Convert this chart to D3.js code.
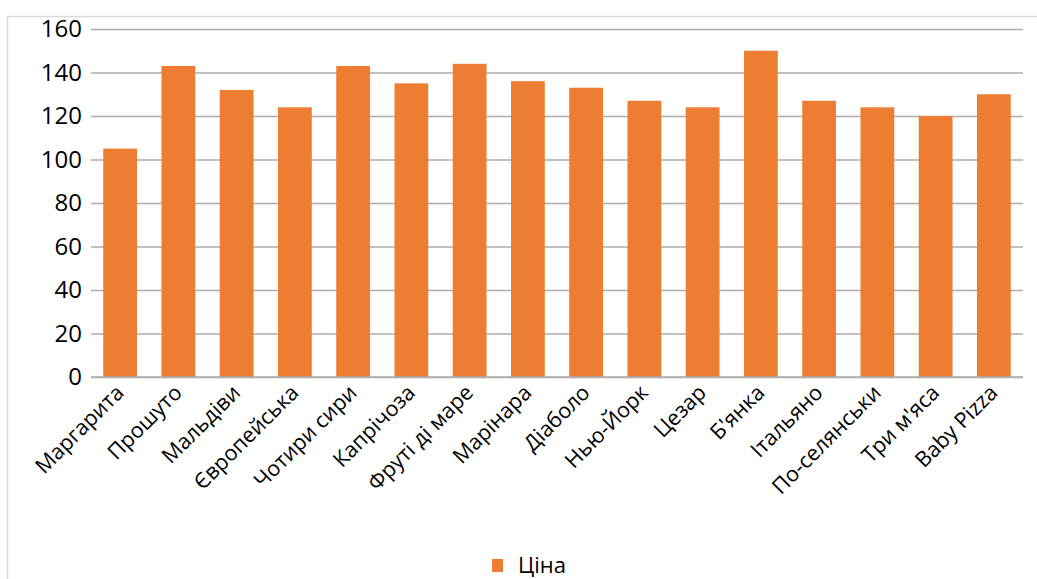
<!DOCTYPE html>
<html>
<head>
<meta charset="utf-8">
<script src="https://cdn.jsdelivr.net/npm/d3@7"></script>
<style>
  html, body { margin: 0; padding: 0; background: #fff; }
  svg { display: block; }
  text { font-family: "Open Sans", "Noto Sans", sans-serif; fill: #000; }
</style>
</head>
<body>
<svg id="chart" width="1037" height="579"></svg>
<script>
// Pizza names and their prices
const pizzas = ["Маргарита", "Прошуто", "Мальдіви", "Європейська", "Чотири сири", "Капрічоза",
  "Фруті ді маре", "Марінара", "Діаболо", "Нью-Йорк", "Цезар", "Б'янка", "Італьяно",
  "По-селянськи", "Три м'яса", "Baby Pizza"];
const prices = [105, 143, 132, 124, 143, 135, 144, 136, 133, 127, 124, 150, 127, 124, 120, 130];
const yTicks = [0, 20, 40, 60, 80, 100, 120, 140, 160];
const seriesName = "Ціна";

const barColor = "#ed7d31";
const gridColor = "#acacac";

const svg = d3.select("#chart");

// chart frame
svg.append("rect")
  .attr("x", 7.5).attr("y", 16.5)
  .attr("width", 1040).attr("height", 600)
  .attr("fill", "none").attr("stroke", "#d9d9d9").attr("stroke-width", 1.5);

const plot = { left: 91, right: 1023, top: 29, bottom: 377 };

const x = d3.scaleBand()
  .domain(pizzas)
  .range([plot.left, plot.right])
  .paddingInner(0.42)
  .paddingOuter(0.21);

const y = d3.scaleLinear()
  .domain([0, 160])
  .range([plot.bottom, plot.top]);

// horizontal gridlines with value labels
const yAxis = d3.axisLeft(y)
  .tickValues(yTicks)
  .tickSize(-(plot.right - plot.left))
  .tickPadding(9);

const gy = svg.append("g")
  .attr("transform", `translate(${plot.left},0)`)
  .call(yAxis);
gy.select(".domain").remove();
gy.selectAll(".tick line").attr("stroke", gridColor).attr("stroke-width", 1.5);
gy.selectAll(".tick text")
  .style("font-size", "24px")
  .attr("fill", "#000");

// bars
svg.append("g")
  .selectAll("rect")
  .data(prices)
  .join("rect")
  .attr("x", (d, i) => x(pizzas[i]))
  .attr("y", d => y(d))
  .attr("width", x.bandwidth())
  .attr("height", d => y(0) - y(d))
  .attr("fill", barColor);

// baseline
svg.append("line")
  .attr("x1", plot.left).attr("x2", plot.right)
  .attr("y1", y(0)).attr("y2", y(0))
  .attr("stroke", gridColor).attr("stroke-width", 1.5);

// rotated category labels
const xAxis = d3.axisBottom(x).tickSize(0).tickPadding(0);
const gx = svg.append("g")
  .attr("transform", `translate(0,${plot.bottom})`)
  .call(xAxis);
gx.select(".domain").remove();
gx.selectAll(".tick text")
  .style("font-size", "21.5px")
  .attr("fill", "#000")
  .attr("text-anchor", "end")
  .attr("dy", null)
  .attr("y", 0)
  .attr("transform", "translate(5,17) rotate(-45)");

// legend
const legend = svg.append("g").attr("transform", "translate(492,559)");
legend.append("rect")
  .attr("x", 0).attr("y", 0)
  .attr("width", 11).attr("height", 13)
  .attr("fill", barColor);
legend.append("text")
  .attr("x", 26).attr("y", 14)
  .style("font-size", "22px")
  .text(seriesName);
</script>
</body>
</html>
